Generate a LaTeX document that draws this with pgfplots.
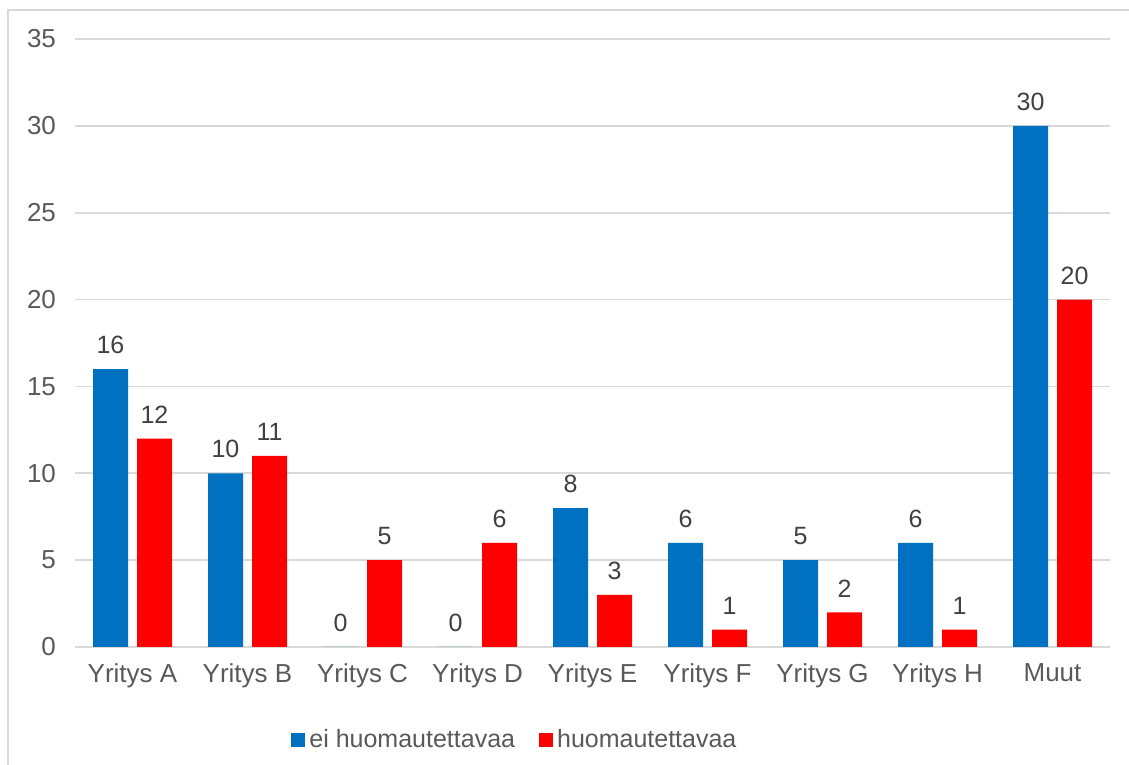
\documentclass[border=0pt]{standalone}
\usepackage{pgfplots}
\pgfplotsset{compat=1.18}
\usepackage{fontspec}
\setmainfont{Liberation Sans}
\definecolor{cblue}{HTML}{0070C0}
\definecolor{cred}{HTML}{FF0000}
\definecolor{gridc}{HTML}{D9D9D9}
\definecolor{txt}{HTML}{595959}
\definecolor{lbl}{HTML}{404040}
\begin{document}
\begin{tikzpicture}
\path[use as bounding box] (0pt,0pt) rectangle (564.5pt,382.5pt);
\draw[gridc, line width=1pt] (4pt,0pt) -- (4pt,377.5pt) -- (564.5pt,377.5pt);
\begin{axis}[
  at={(37.5pt,59pt)}, anchor=south west,
  scale only axis, width=517.5pt, height=304pt,
  xmin=-0.5, xmax=8.5, ymin=0, ymax=35,
  ytick={0,5,...,35},
  xtick={0,...,8},
  xticklabels={Yritys A,Yritys B,Yritys C,Yritys D,Yritys E,Yritys F,Yritys G,Yritys H,Muut},
  /pgf/number format/assume math mode=true,
  axis line style={draw=none},
  axis x line*=bottom, axis y line*=left,
  major tick length=0pt,
  ymajorgrids, grid style={gridc, line width=0.8pt},
  tick label style={font=\fontsize{13}{15}\selectfont, text=txt},
  yticklabel style={xshift=-6pt},
  xticklabel style={yshift=-5pt},
  ybar, bar width=17.5pt,
  nodes near coords,
  every node near coord/.append style={font=\fontsize{12.5}{14}\selectfont, text=lbl, yshift=4pt},
  legend style={at={(0.426,-0.153)}, anchor=center, draw=none, fill=none,
    legend columns=2, font=\fontsize{12.5}{14}\selectfont, text=txt,
    /tikz/every even column/.append style={column sep=10pt}},
  legend image code/.code={\fill[#1] (0cm,-3.5pt) rectangle (7pt,3.5pt);},
]
\addplot[fill=cblue, draw=none, bar shift=-11pt]
  coordinates {(0,16) (1,10) (2,0) (3,0) (4,8) (5,6) (6,5) (7,6) (8,30)};
\addplot[fill=cred, draw=none, bar shift=11pt]
  coordinates {(0,12) (1,11) (2,5) (3,6) (4,3) (5,1) (6,2) (7,1) (8,20)};
\legend{ei huomautettavaa, huomautettavaa}
\end{axis}
\end{tikzpicture}
\end{document}
